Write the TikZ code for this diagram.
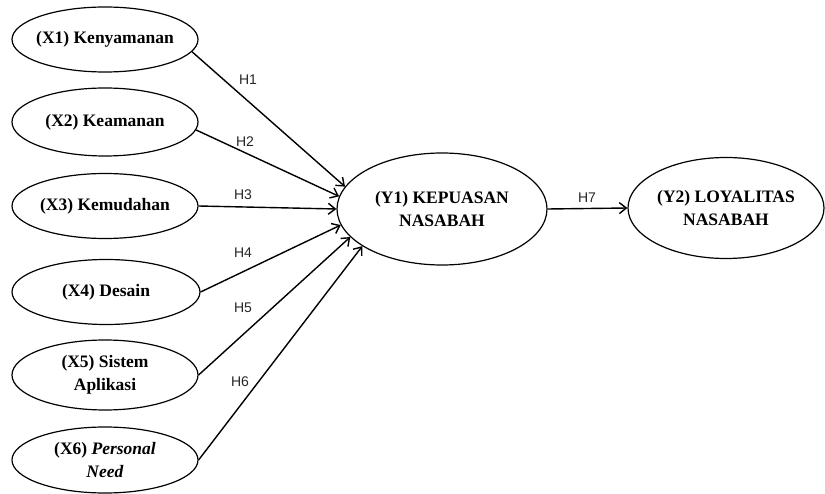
\documentclass[tikz,border=0pt]{standalone}
\usepackage{fontspec}
\setmainfont{Liberation Serif}
\newfontfamily\hfont{Liberation Sans}
\usetikzlibrary{shapes.geometric,arrows.meta}
\begin{document}
\begin{tikzpicture}[x=1pt,y=-1pt,
  var/.style={draw, ellipse, line width=1.2pt, inner sep=0pt},
  vtext/.style={font=\fontsize{17.5}{23.5}\selectfont\bfseries, align=center, inner sep=0pt},
  hlab/.style={font=\hfont\fontsize{14}{15}\selectfont, inner sep=0pt, text=black!85},
  link/.style={line width=1.4pt, -{Straight Barb[length=7pt,width=11pt,line width=1.4pt]}}]
\useasboundingbox (0,0) rectangle (825,494);
% exogenous variables
\node[var, minimum width=186pt, minimum height=65pt] (x1) at (105,39.5) {};
\node[var, minimum width=186pt, minimum height=68pt] (x2) at (105,122) {};
\node[var, minimum width=186pt, minimum height=65pt] (x3) at (105,206) {};
\node[var, minimum width=188pt, minimum height=65pt] (x4) at (106,292) {};
\node[var, minimum width=186pt, minimum height=70pt] (x5) at (105,375) {};
\node[var, minimum width=186pt, minimum height=66pt] (x6) at (105,460) {};
\node[vtext] (x1t) at (x1) {(X1) Kenyamanan};
\node[vtext] (x2t) at (x2) {(X2) Keamanan};
\node[vtext] (x3t) at (x3) {(X3) Kemudahan};
\node[vtext] (x4t) at (x4) {(X4) Desain};
\node[vtext] (x5t) at (x5) {(X5) Sistem\\Aplikasi};
\node[vtext] (x6t) at (x6) {(X6) \textit{Personal}\\\textit{Need}};
% endogenous variables
\node[var, minimum width=210pt, minimum height=112pt] (y1) at (442,209) {};
\node[var, minimum width=196pt, minimum height=101pt] (y2) at (726,208) {};
\node[vtext] (y1t) at (y1) {(Y1) KEPUASAN\\NASABAH};
\node[vtext] (y2t) at (y2) {(Y2) LOYALITAS\\NASABAH};
% paths
\draw[link] (x1.-8) -- (y1.167);
\draw[link] (x2.-5) -- (y1.173);
\draw[link] (x3.east) -- (y1.180);
\draw[link] (x4.east) -- (y1.189);
\draw[link] (x5.east) -- (y1.197);
\draw[link] (x6.east) -- (y1.205);
\draw[link] (y1.east) -- (y2.west);
% labels
\node[hlab] (h1) at (248,80) {H1};
\node[hlab] (h2) at (245,142) {H2};
\node[hlab] (h3) at (243,195) {H3};
\node[hlab] (h4) at (243,253) {H4};
\node[hlab] (h5) at (243,308) {H5};
\node[hlab] (h6) at (240,382) {H6};
\node[hlab] (h7) at (587,198) {H7};
\end{tikzpicture}
\end{document}
